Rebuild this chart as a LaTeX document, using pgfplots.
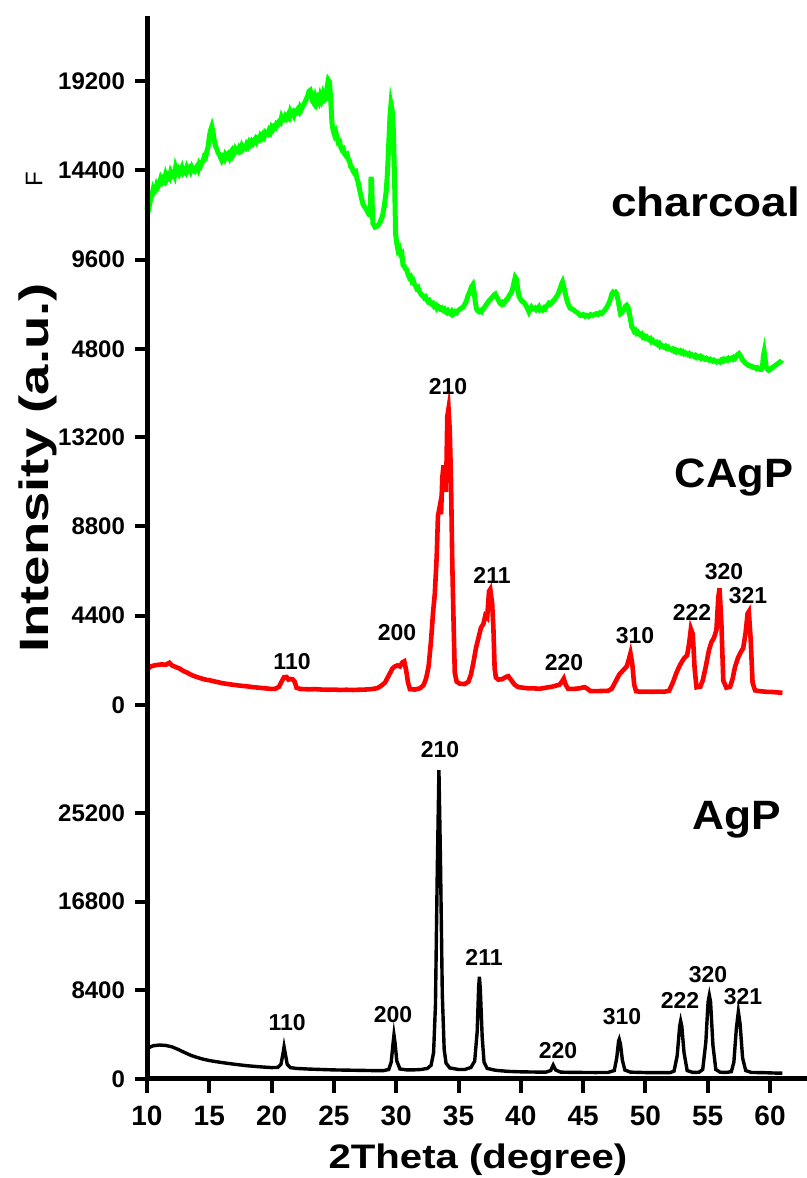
\documentclass[border=0pt]{standalone}
\usepackage{fontspec}
\setmainfont{Liberation Sans}
\usepackage{graphicx}
\usepackage{pgfplots}
\usepackage{pgfplotstable}
\pgfplotsset{compat=1.18}
\pgfplotsset{every tick/.append style={line width=2pt, black}}

\definecolor{charcoalgreen}{RGB}{0,255,0}
\definecolor{cagpred}{RGB}{255,0,0}

% XRD pattern of charcoal
\pgfplotstableread{
x y
10.0 12300
10.1 12700
10.2 12550
10.3 12900
10.4 13100
10.5 13400
10.6 13250
10.7 13350
10.8 13650
10.9 13550
11.0 13700
11.1 13950
11.2 13800
11.3 13950
11.4 13850
11.5 14150
11.6 13950
11.7 14100
11.8 14000
11.9 14300
12.0 14150
12.1 14250
12.2 14100
12.3 14550
12.4 14350
12.5 14450
12.6 14250
12.7 14400
12.8 14550
12.9 14300
13.0 14400
13.1 14300
13.2 14550
13.3 14400
13.4 14500
13.5 14350
13.6 14550
13.7 14400
13.8 14350
13.9 14500
14.0 14600
14.1 14450
14.2 14750
14.3 14650
14.4 14850
14.5 14900
14.6 15150
14.7 15100
14.8 15400
14.9 15650
15.0 16200
15.1 16550
15.2 16750
15.3 16450
15.4 16000
15.5 15700
15.6 15550
15.7 15350
15.8 15250
15.9 15100
16.0 14950
16.1 15100
16.2 15000
16.3 15250
16.4 15150
16.5 15250
16.6 15100
16.7 15350
16.8 15450
16.9 15200
17.0 15300
17.1 15550
17.2 15450
17.3 15400
17.4 15600
17.5 15500
17.6 15700
17.7 15550
17.8 15650
17.9 15600
18.0 15800
18.1 15700
18.2 15900
18.3 15800
18.4 15950
18.5 15850
18.6 16000
18.7 16100
18.8 15950
18.9 16100
19.0 16050
19.1 16250
19.2 16150
19.3 16300
19.4 16200
19.5 16450
19.6 16400
19.7 16350
19.8 16550
19.9 16450
20.0 16700
20.1 16600
20.2 16750
20.3 16700
20.4 16900
20.5 16850
20.6 17000
20.7 16950
20.8 17250
20.9 17100
21.0 17100
21.1 17300
21.2 17200
21.3 17350
21.4 17250
21.5 17550
21.6 17400
21.7 17500
21.8 17350
21.9 17550
22.0 17500
22.1 17650
22.2 17550
22.3 17800
22.4 17700
22.5 17850
22.6 17950
22.7 18100
22.8 18250
22.9 18400
23.0 18650
23.1 18700
23.2 18450
23.3 18100
23.4 18000
23.5 18300
23.6 18050
23.7 18250
23.8 18100
23.9 18400
24.0 18200
24.1 18450
24.2 18150
24.3 18200
24.4 18600
24.5 19050
24.55 19250
24.65 19150
24.75 18100
24.85 16900
24.95 16500
25.05 16300
25.15 16450
25.25 16200
25.35 15900
25.45 15950
25.55 15650
25.65 15500
25.75 15550
25.85 15300
25.95 15200
26.05 15250
26.15 15000
26.25 14900
26.35 14600
26.45 14550
26.55 14350
26.65 14250
26.75 14300
26.85 13950
26.95 13750
27.05 13400
27.15 13100
27.25 12800
27.35 12550
27.45 12450
27.55 12350
27.65 12250
27.75 12100
27.85 12000
27.93 12000
27.98 14050
28.03 13800
28.08 12400
28.13 11550
28.3 11350
28.5 11400
28.7 11600
28.9 11950
29.05 12500
29.2 13300
29.3 14300
29.4 15800
29.5 17300
29.58 17950
29.68 17600
29.78 16500
29.88 13500
29.95 11000
30.05 10450
30.15 10100
30.25 10200
30.35 9900
30.45 9950
30.55 9300
30.65 9250
30.75 9100
30.85 9050
30.95 8800
31.05 8650
31.15 8700
31.25 8450
31.35 8500
31.45 8300
31.55 8200
31.65 8050
31.75 8100
31.85 7900
31.95 7800
32.05 7700
32.15 7650
32.25 7550
32.35 7600
32.45 7450
32.55 7350
32.65 7400
32.75 7250
32.85 7200
32.95 7250
33.05 7100
33.15 7150
33.25 7000
33.35 7100
33.45 7050
33.55 6950
33.65 7000
33.75 6900
33.85 6950
33.95 6800
34.05 6750
34.15 6850
34.25 6750
34.35 6700
34.45 6800
34.55 6650
34.65 6700
34.75 6800
34.85 6750
34.95 6850
35.05 6900
35.15 6950
35.25 7000
35.35 7050
35.45 7150
35.55 7250
35.65 7400
35.75 7650
35.85 7800
35.95 7950
36.05 8150
36.15 8250
36.25 7900
36.35 7300
36.45 6950
36.55 6850
36.65 6800
36.75 6850
36.85 6800
36.95 6950
37.05 7000
37.15 7100
37.25 7200
37.35 7300
37.45 7400
37.55 7450
37.65 7550
37.75 7600
37.85 7700
37.95 7750
38.05 7600
38.15 7500
38.25 7350
38.35 7250
38.45 7200
38.55 7300
38.65 7250
38.75 7350
38.85 7450
38.95 7500
39.05 7650
39.15 7750
39.25 7850
39.35 8050
39.45 8350
39.55 8650
39.65 8550
39.75 8050
39.85 7650
39.95 7500
40.05 7400
40.15 7350
40.25 7300
40.35 7200
40.45 7100
40.55 6950
40.65 6800
40.75 6950
40.85 7050
40.95 6950
41.05 6950
41.15 7000
41.25 6900
41.35 6950
41.45 7050
41.55 6900
41.65 6950
41.75 6900
41.85 7000
41.95 6950
42.05 7100
42.15 7150
42.25 7250
42.35 7200
42.45 7250
42.55 7350
42.65 7400
42.75 7500
42.85 7600
42.95 7700
43.05 7850
43.15 8050
43.25 8250
43.35 8400
43.45 8150
43.55 7850
43.65 7550
43.75 7300
43.85 7150
43.95 7000
44.1 6950
44.25 6900
44.4 6800
44.55 6750
44.7 6650
44.85 6600
45.0 6650
45.15 6550
45.3 6600
45.45 6550
45.6 6650
45.75 6600
45.9 6650
46.05 6700
46.2 6650
46.35 6750
46.5 6700
46.65 6800
46.8 6950
46.95 7100
47.1 7300
47.2 7500
47.3 7750
47.4 7850
47.5 7800
47.6 7850
47.7 7750
47.8 7450
47.9 7050
48.0 6700
48.1 6750
48.2 6850
48.3 6950
48.4 7100
48.5 7150
48.6 7050
48.7 6750
48.8 6400
48.9 6000
49.0 5900
49.1 5750
49.2 5800
49.3 5650
49.4 5700
49.5 5600
49.6 5550
49.7 5600
49.8 5450
49.9 5500
50.0 5400
50.1 5450
50.2 5350
50.3 5300
50.4 5350
50.5 5200
50.6 5250
50.7 5150
50.8 5100
50.9 5150
51.0 5050
51.1 5100
51.2 4950
51.3 5000
51.4 4950
51.5 4900
51.6 4950
51.7 4850
51.8 4900
51.9 4800
52.0 4800
52.1 4750
52.2 4800
52.3 4700
52.4 4750
52.5 4650
52.6 4700
52.7 4650
52.8 4700
52.9 4600
53.0 4650
53.1 4550
53.2 4600
53.3 4550
53.4 4500
53.5 4550
53.6 4450
53.7 4500
53.8 4450
53.9 4400
54.0 4450
54.1 4350
54.2 4400
54.3 4350
54.4 4400
54.5 4300
54.6 4350
54.7 4300
54.8 4250
54.9 4300
55.0 4250
55.1 4200
55.2 4250
55.3 4200
55.4 4150
55.5 4200
55.6 4150
55.7 4100
55.8 4150
55.9 4150
56.0 4100
56.1 4200
56.2 4150
56.3 4250
56.4 4200
56.5 4250
56.6 4200
56.7 4300
56.8 4250
56.9 4300
57.0 4250
57.1 4350
57.2 4300
57.3 4400
57.4 4500
57.5 4550
57.6 4450
57.7 4350
57.8 4200
57.9 4150
58.0 4050
58.1 4000
58.2 3950
58.3 3900
58.4 3900
58.5 3850
58.6 3850
58.7 3800
58.8 3800
58.9 3750
59.0 3800
59.1 3750
59.2 3700
59.3 3700
59.4 3900
59.47 4450
59.53 4650
59.6 4300
59.7 3850
59.8 3700
59.9 3650
60.0 3700
60.1 3750
60.2 3800
60.3 3850
60.4 3900
60.5 3950
60.6 4000
60.7 4050
60.8 4100
60.9 4150
60.95 4200
}\charcoaldata

% XRD pattern of CAgP
\pgfplotstableread{
x y
10.0 1750
10.3 1900
10.6 1950
10.9 1980
11.2 2000
11.5 1980
11.8 2080
12.0 1950
12.3 1870
12.6 1800
12.9 1680
13.2 1600
13.5 1500
13.8 1420
14.1 1360
14.4 1300
14.7 1250
15.0 1220
15.5 1150
16.0 1080
16.5 1030
17.0 990
17.5 950
18.0 920
18.5 880
19.0 850
19.5 820
20.0 790
20.3 800
20.6 900
20.8 1150
21.0 1370
21.2 1380
21.35 1250
21.5 1280
21.7 1260
21.85 1150
22.0 850
22.3 790
23.0 770
23.5 780
24.0 760
24.5 750
25.0 760
25.5 740
26.0 750
26.5 740
27.0 750
27.5 760
28.0 780
28.5 830
28.8 950
29.1 1100
29.4 1450
29.7 1800
29.9 1900
30.1 1950
30.3 1900
30.5 2100
30.65 2150
30.8 1700
30.95 1100
31.1 780
31.5 760
31.9 820
32.2 980
32.4 1300
32.6 1900
32.8 3200
32.95 4500
33.1 5500
33.25 7300
33.35 9300
33.5 9800
33.6 9400
33.7 11200
33.8 11800
33.9 11000
34.0 10500
34.1 14200
34.2 14600
34.3 13500
34.4 11000
34.5 7000
34.6 4200
34.7 1600
34.85 1150
35.1 1050
35.5 1030
35.8 1150
36.0 1500
36.2 2100
36.4 2800
36.6 3300
36.8 3800
37.0 4000
37.15 4400
37.3 4300
37.45 5600
37.55 5700
37.7 5000
37.8 3800
37.9 1800
38.0 1350
38.2 1250
38.5 1270
38.8 1380
39.0 1420
39.2 1250
39.5 1000
39.8 880
40.2 850
40.6 820
41.0 820
41.5 800
42.0 850
42.5 900
42.8 950
43.1 1000
43.3 1150
43.45 1300
43.6 1000
43.8 800
44.2 790
44.7 820
45.1 880
45.3 820
45.6 680
46.0 680
46.5 690
47.0 700
47.3 800
47.6 1150
47.9 1500
48.2 1700
48.5 1900
48.65 2200
48.8 2550
48.95 2000
49.1 1000
49.25 680
49.6 650
50.0 660
50.5 650
51.0 660
51.5 650
51.9 700
52.2 1100
52.5 1600
52.8 2000
53.1 2300
53.35 2450
53.5 3000
53.65 3750
53.8 3500
53.95 1800
54.1 870
54.4 900
54.6 1200
54.85 1900
55.1 2700
55.3 3100
55.5 3300
55.7 3700
55.85 5300
55.95 5750
56.1 4000
56.25 1200
56.5 850
56.8 900
57.0 1300
57.2 1900
57.45 2350
57.65 2600
57.85 2800
58.05 3600
58.2 4500
58.3 4600
58.45 3200
58.6 1100
58.8 720
59.2 680
59.7 650
60.2 640
60.6 620
61.0 600
}\cagpdata

% XRD pattern of AgP
\pgfplotstableread{
x y
10.0 2900
10.5 3150
11.0 3220
11.5 3180
12.0 3050
12.5 2800
13.0 2520
13.5 2250
14.0 2050
14.5 1880
15.0 1750
15.5 1650
16.0 1560
17.0 1400
18.0 1260
19.0 1160
20.0 1080
20.5 1100
20.75 1400
20.9 2300
21.0 3050
21.1 2400
21.25 1400
21.5 1080
22.0 1000
23.0 940
24.0 900
25.0 860
26.0 840
27.0 820
28.0 800
29.0 800
29.4 900
29.6 1600
29.75 3400
29.82 4170
29.9 3500
30.05 1700
30.3 950
30.8 870
31.5 870
32.0 900
32.5 1000
32.8 1300
33.0 2500
33.15 7000
33.3 20000
33.43 29270
33.55 21000
33.7 8000
33.85 2800
34.0 1500
34.3 1050
35.0 900
35.5 900
36.0 1100
36.3 1700
36.5 4500
36.62 8800
36.68 9690
36.75 8500
36.9 4000
37.05 1600
37.3 1000
38.0 820
39.0 720
40.0 680
41.0 660
42.0 650
42.4 800
42.6 1320
42.8 850
43.2 650
44.0 630
45.0 620
46.0 610
47.0 620
47.5 800
47.7 2000
47.85 3600
47.9 3760
48.0 3300
48.15 1800
48.35 850
48.8 650
50.0 610
51.0 600
52.0 610
52.3 750
52.55 2200
52.75 5000
52.83 5495
52.92 5000
53.1 2500
53.35 800
53.8 620
54.3 640
54.6 900
54.85 3500
55.03 7300
55.13 7930
55.23 7300
55.42 3200
55.65 900
56.0 640
56.5 620
56.9 700
57.1 1600
57.3 4800
57.46 6380
57.6 5200
57.8 2000
58.05 800
58.5 620
59.5 600
60.5 560
61.0 560
}\agpdata

\tikzset{
  hkl/.style={font=\fontsize{11.5}{13}\selectfont\bfseries, inner sep=0pt},
  sample/.style={font=\fontsize{20.5}{24}\selectfont\bfseries, inner sep=0pt},
}
% tick label text, set in the bold text font
\newcommand\ylbl[1]{\fontsize{12}{13}\selectfont\bfseries #1}
\newcommand\xlbl[1]{\fontsize{14}{15}\selectfont\bfseries #1}

\begin{document}
\begin{tikzpicture}

% AgP
\begin{axis}[
  name=agp,
  scale only axis, width=330pt, height=183.5pt,
  at={(73.5pt,49.5pt)}, anchor=south west,
  xmin=10, xmax=62.97,
  ymin=0, ymax=34770,
  axis x line=bottom, axis y line=left,
  axis line style={-},
  tick align=outside,
  major tick length=6pt,
  xtick={10,15,...,60},
  ytick={0,8400,16800,25200},
  xticklabel={\xlbl{\pgfmathprintnumber[fixed]{\tick}}},
  yticklabel={\ylbl{\pgfmathprintnumber[fixed,1000 sep={}]{\tick}}},
  xticklabel shift=4pt,
  yticklabel shift=1.5pt,
  /pgf/number format/assume math mode=true,
  scaled ticks=false,
  clip=false,
]
\addplot[black, line width=1.7pt] table[x=x, y=y] {\agpdata};
\pgfplotsinvokeforeach{0,8400,16800,25200}{\coordinate (ya#1) at (axis cs:10,#1);}
\pgfplotsinvokeforeach{10,15,20,25,30,35,40,45,50,55,60}{\coordinate (xa#1) at (axis cs:#1,0);}
\node[hkl] at (axis cs:21.24,5305) {110};
\node[hkl] at (axis cs:29.74,6063) {200};
\node[hkl] at (axis cs:33.52,31166) {210};
\node[hkl] at (axis cs:37.05,11557) {211};
\node[hkl] at (axis cs:42.99,2652) {220};
\node[hkl] at (axis cs:48.12,5873) {310};
\node[hkl] at (axis cs:52.78,7484) {222};
\node[hkl] at (axis cs:55.03,9852) {320};
\node[hkl] at (axis cs:57.83,7768) {321};
\node[sample] at (axis cs:57.35,24535) {\scalebox{1.08}[1]{AgP}};
\end{axis}

% CAgP
\begin{axis}[
  name=cagp,
  scale only axis, width=330pt, height=158.5pt,
  at={(73.5pt,233pt)}, anchor=south west,
  xmin=10, xmax=62.97,
  ymin=-345, ymax=15269,
  axis x line=none, axis y line=left,
  axis line style={-},
  tick align=outside,
  major tick length=6pt,
  ytick={0,4400,8800,13200},
  yticklabel={\ylbl{\pgfmathprintnumber[fixed,1000 sep={}]{\tick}}},
  yticklabel shift=1.5pt,
  /pgf/number format/assume math mode=true,
  scaled ticks=false,
  clip=false,
]
\addplot[cagpred, line width=2.3pt] table[x=x, y=y] {\cagpdata};
\pgfplotsinvokeforeach{0,4400,8800,13200}{\coordinate (yb#1) at (axis cs:10,#1);}
\node[hkl] at (axis cs:21.64,2118) {110};
\node[hkl] at (axis cs:30.06,3547) {200};
\node[hkl] at (axis cs:34.16,15665) {210};
\node[hkl] at (axis cs:37.69,6404) {211};
\node[hkl] at (axis cs:43.47,2069) {220};
\node[hkl] at (axis cs:49.17,3399) {310};
\node[hkl] at (axis cs:53.74,4581) {222};
\node[hkl] at (axis cs:56.31,6552) {320};
\node[hkl] at (axis cs:58.23,5369) {321};
\node[sample] at (axis cs:57.11,11182) {\scalebox{1.06}[1]{CAgP}};
\end{axis}

% charcoal
\begin{axis}[
  name=charc,
  scale only axis, width=330pt, height=189.5pt,
  at={(73.5pt,391.5pt)}, anchor=south west,
  xmin=10, xmax=62.97,
  ymin=2328, ymax=22693,
  axis x line=none, axis y line=left,
  axis line style={-},
  tick align=outside,
  major tick length=6pt,
  ytick={4800,9600,14400,19200},
  yticklabel={\ylbl{\pgfmathprintnumber[fixed,1000 sep={}]{\tick}}},
  yticklabel shift=1.5pt,
  /pgf/number format/assume math mode=true,
  scaled ticks=false,
  clip=false,
]
\addplot[charcoalgreen, line width=2.5pt] table[x=x, y=y] {\charcoaldata};
\pgfplotsinvokeforeach{4800,9600,14400,19200}{\coordinate (yc#1) at (axis cs:10,#1);}
\node[sample] at (axis cs:54.85,12698) {\scalebox{1.12}[1]{charcoal}};
\end{axis}

% heavy axis lines and tick marks
\fill[black] ([xshift=-1.25pt,yshift=-1.25pt]agp.south west) rectangle ([xshift=1.25pt]charc.north west);
\fill[black] ([xshift=-1.25pt,yshift=-1.25pt]agp.south west) rectangle ([yshift=1.25pt]agp.south east);
\foreach \v in {0,8400,16800,25200} {\fill[black] ([yshift=-1pt]ya\v) rectangle ([xshift=-6pt,yshift=1pt]ya\v);}
\foreach \v in {0,4400,8800,13200} {\fill[black] ([yshift=-1pt]yb\v) rectangle ([xshift=-6pt,yshift=1pt]yb\v);}
\foreach \v in {4800,9600,14400,19200} {\fill[black] ([yshift=-1pt]yc\v) rectangle ([xshift=-6pt,yshift=1pt]yc\v);}
\foreach \v in {10,15,20,25,30,35,40,45,50,55,60} {\fill[black] ([xshift=-1pt]xa\v) rectangle ([xshift=1pt,yshift=-7pt]xa\v);}

% axis titles
\node[rotate=90, inner sep=0pt] at (19pt,355pt)
  {\scalebox{1.33}[1]{\fontsize{20.5}{24}\selectfont\bfseries Intensity (a.u.)}};
\node[inner sep=0pt] at (239pt,9pt)
  {\scalebox{1.18}[1]{\fontsize{17}{20}\selectfont\bfseries 2Theta (degree)}};
\node[rotate=90, inner sep=0pt] at (17pt,499.5pt) {\fontsize{12}{14}\selectfont F};

\pgfresetboundingbox
\useasboundingbox (0,0) rectangle (403.5pt,589pt);
\end{tikzpicture}
\end{document}
